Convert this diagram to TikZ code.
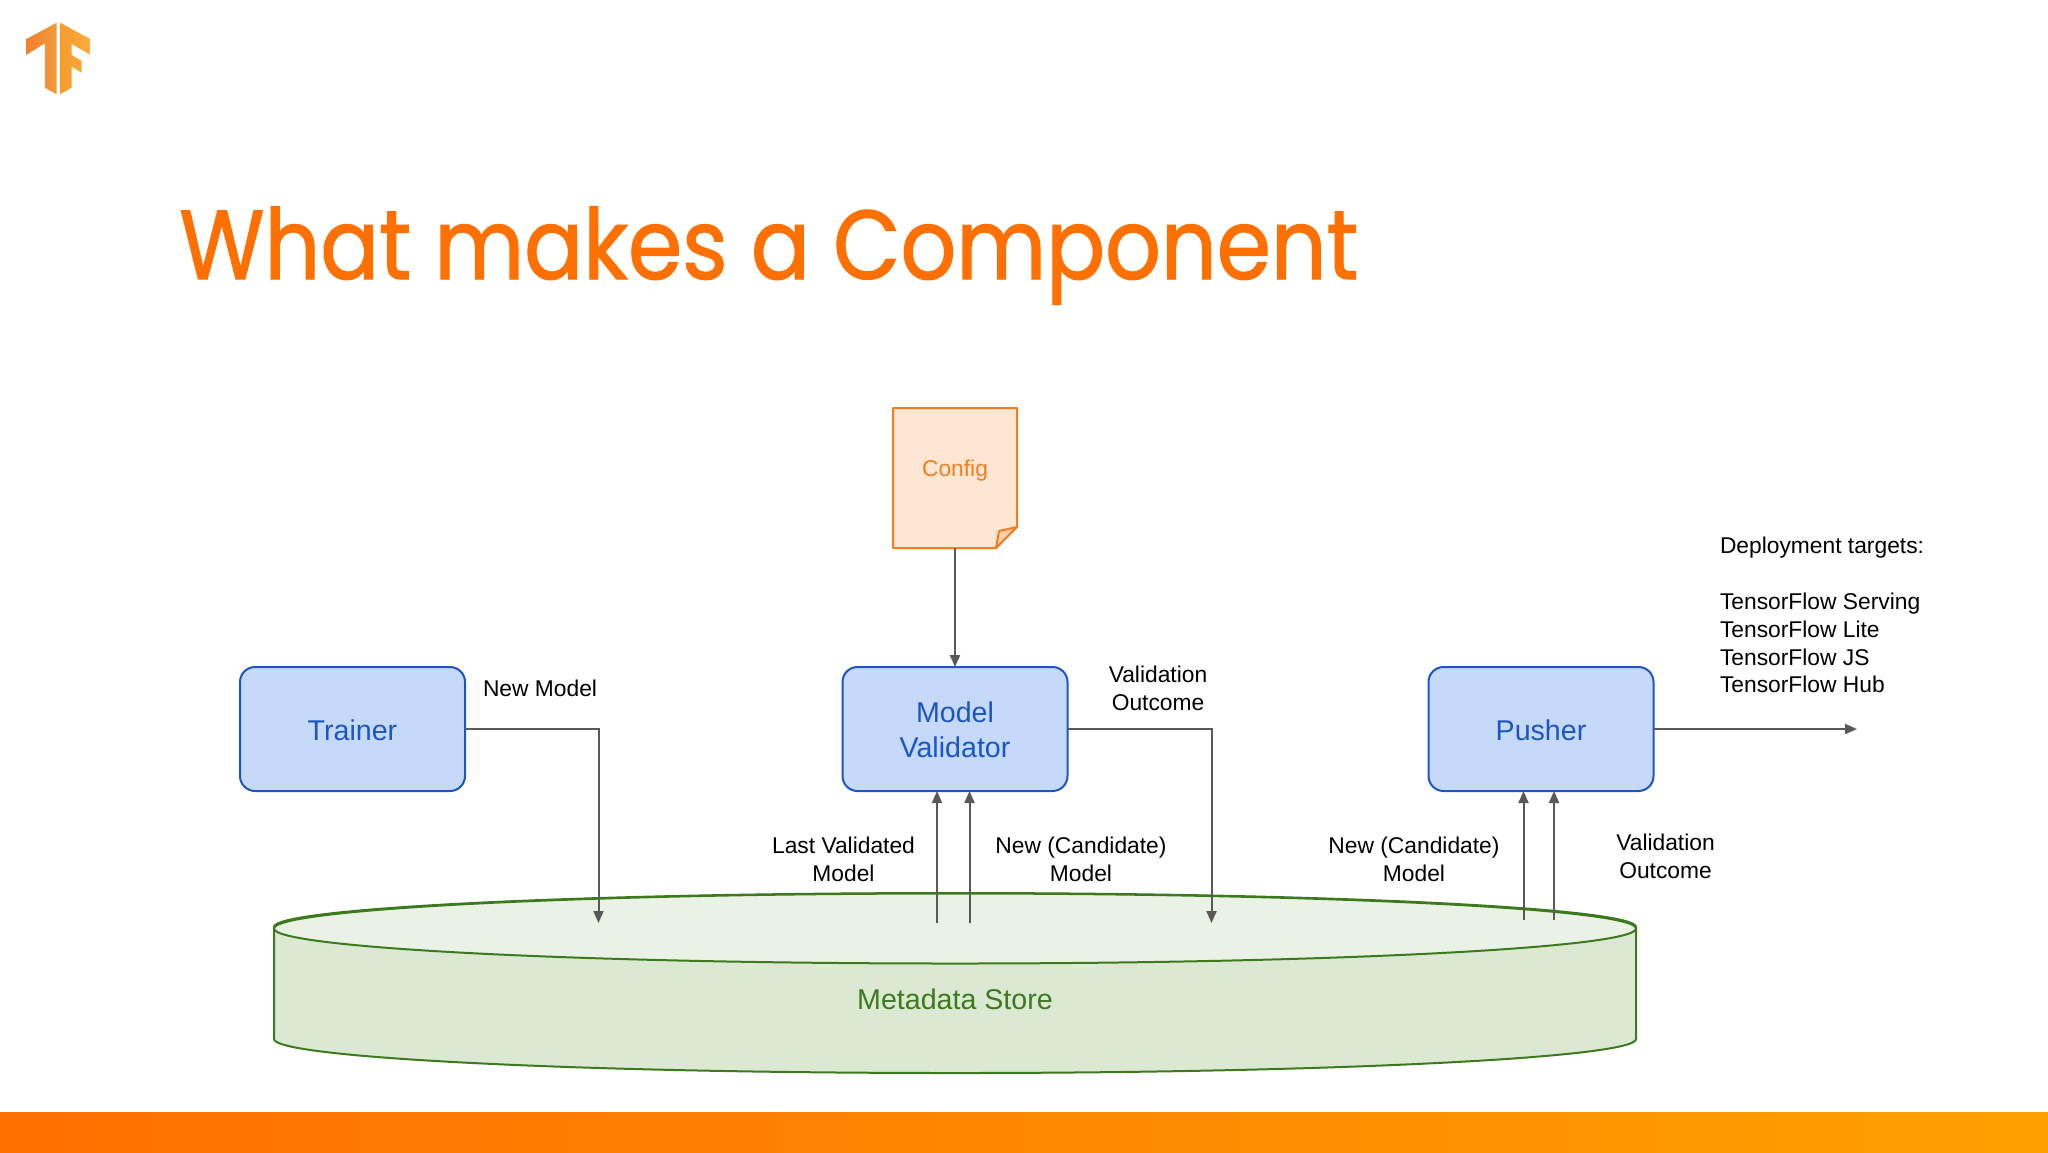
\documentclass[tikz,border=0pt]{standalone}
\usepackage{fontspec}
\setmainfont{Liberation Sans}
\newfontfamily\titlefont[FakeStretch=0.89,FakeBold=1.2]{Poppins}
\usetikzlibrary{arrows.meta,calc}
\definecolor{boxblue}{HTML}{C6D9F8}
\definecolor{lineblue}{HTML}{1A56C4}
\definecolor{paper}{HTML}{FDE7D2}
\definecolor{paperfold}{HTML}{F8CFA8}
\definecolor{lineorange}{HTML}{F57C1F}
\definecolor{storeside}{HTML}{DBE9D3}
\definecolor{storetop}{HTML}{E9F2E4}
\definecolor{linegreen}{HTML}{3D7A1E}
\definecolor{connc}{HTML}{595959}
\definecolor{bara}{HTML}{FF6F00}
\definecolor{barb}{HTML}{FFA000}
\definecolor{logoa}{HTML}{F07F2E}
\definecolor{logob}{HTML}{F39A3A}
\definecolor{logoc}{HTML}{F59A30}
\definecolor{logod}{HTML}{FBAF3C}
\definecolor{titlec}{HTML}{FF7000}
\tikzset{
  x=0.5pt,y=-0.5pt,
  procbox/.style={draw=lineblue,fill=boxblue,line width=1pt,rounded corners=7.5pt,minimum width=112.5pt,minimum height=62pt,inner sep=0pt,outer sep=0pt},
  boxtext/.style={inner sep=0pt,outer sep=0pt,text=lineblue,font=\fontsize{14.3}{17}\selectfont,align=center},
  lbl/.style={inner sep=0pt,outer sep=0pt,align=center,text=black,font=\fontsize{11.4}{13.85}\selectfont},
  connl/.style={draw=connc,line width=1pt,-{Triangle[width=5pt,length=6pt]}},
}
\begin{document}
\begin{tikzpicture}
\useasboundingbox (0,0) rectangle (2048,1152);
\fill[white] (0,0) rectangle (2048,1152);
% bottom bar
\shade[left color=bara,right color=barb] (0,1112) rectangle (2048,1152);
% logo
\shade[left color=logoa,right color=logob] (26,39.3) -- (56.7,22.7) -- (56.7,94.3) -- (45,87.7) -- (45,43.3) -- (26,55) -- cycle;
\shade[left color=logoc,right color=logod] (60,22.7) -- (90.7,39.3) -- (90.7,55) -- (71.7,44) -- (71.7,55) -- (81.7,61) -- (81.7,72.7) -- (71.7,66.7) -- (71.7,87.7) -- (60,94.3) -- cycle;
% title
\node[anchor=base west,inner sep=0pt,text=titlec,font=\titlefont\fontsize{49}{60}\selectfont] (title) at (179,279) {What makes a Component};
% store
\fill[storeside,draw=linegreen,line width=1pt] (274,927) -- (274,1039) arc[start angle=180,end angle=360,x radius=340.5pt,y radius=17pt] -- (1636,927) arc[start angle=0,end angle=180,x radius=340.5pt,y radius=17pt] -- cycle;
\fill[storetop,draw=linegreen,line width=1pt] (955,928.5) ellipse[x radius=340.5pt,y radius=17.5pt];
\node[inner sep=0pt,text=linegreen,font=\fontsize{14.3}{17}\selectfont] (store) at (955,999) {Metadata Store};
% boxes
\node[procbox] (trainer) at (352.5,729) {};
\node[boxtext] (trainertext) at (352.5,730) {Trainer};
\node[procbox] (validator) at (955,729) {};
\node[boxtext] (validatortext) at (955,730) {Model\\[0.5pt]Validator};
\node[procbox] (pusher) at (1541,729) {};
\node[boxtext] (pushertext) at (1541,730) {Pusher};
% config
\node[minimum width=62pt,minimum height=70pt,inner sep=0pt,outer sep=0pt] (config) at (955,478) {};
\fill[paper,draw=lineorange,line width=1pt,line join=round] (config.north west) -- (config.north east) -- ($(config.south east)+(0,-21)$) -- ($(config.south east)+(-21,0)$) -- (config.south west) -- cycle;
\fill[paperfold,draw=lineorange,line width=1pt,line join=round] ($(config.south east)+(0,-21)$) -- ($(config.south east)+(-18,-17)$) -- ($(config.south east)+(-21,0)$) -- cycle;
\node[inner sep=0pt,text=lineorange,font=\fontsize{11.4}{14}\selectfont] (configtext) at (955,470.5) {Config};
% connector end points
\coordinate (t1) at (598.5,923);
\coordinate (v1) at (1211.5,923);
\coordinate (u1) at (937,923);
\coordinate (u2) at (969.5,923);
\coordinate (p1) at (1523.5,920);
\coordinate (p2) at (1554,920);
\coordinate (out) at (1857,729);
% connectors
\draw[connl] (config.south) -- (validator.north);
\draw[connl] (trainer.east) -| (t1);
\draw[connl] (validator.east) -| (v1);
\draw[connl] (u1) -- (u1 |- validator.south);
\draw[connl] (u2) -- (u2 |- validator.south);
\draw[connl] (p1) -- (p1 |- pusher.south);
\draw[connl] (p2) -- (p2 |- pusher.south);
\draw[connl] (pusher.east) -- (out);
% labels
\node[lbl,anchor=west] (l1) at (483,688) {New Model};
\node[lbl] (l2) at (1158,688) {Validation\\Outcome};
\node[lbl] (l3) at (843.5,859.5) {Last Validated\\Model};
\node[lbl] (l4) at (1081,859.5) {New (Candidate)\\Model};
\node[lbl] (l5) at (1414,859.5) {New (Candidate)\\Model};
\node[lbl] (l6) at (1665.5,856) {Validation\\Outcome};
\node[lbl,anchor=west,align=left] (l7) at (1720,548) {Deployment targets:};
\node[lbl,anchor=west,align=left] (l8) at (1720,643) {TensorFlow Serving\\TensorFlow Lite\\TensorFlow JS\\TensorFlow Hub};
\end{tikzpicture}
\end{document}
